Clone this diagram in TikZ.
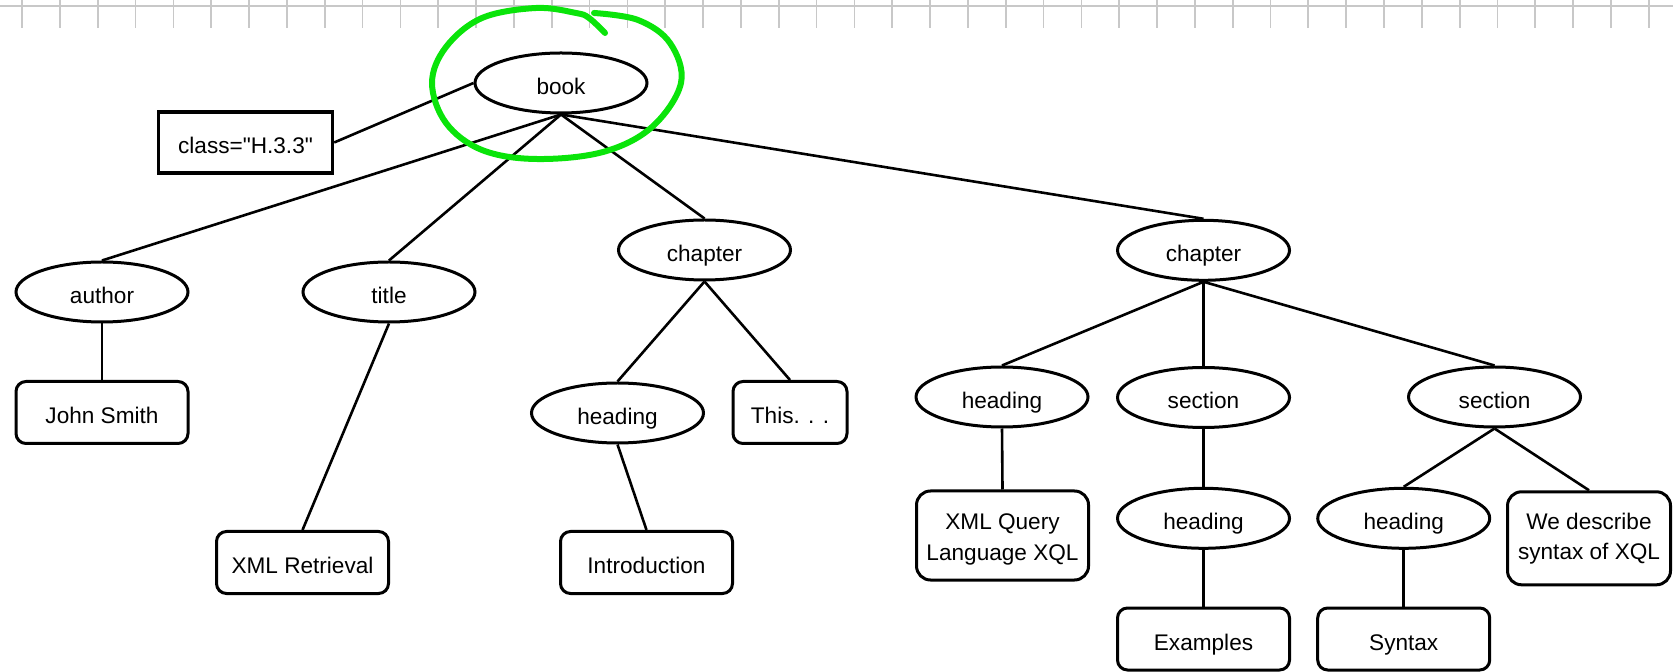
\documentclass[tikz,border=0pt]{standalone}
\usepackage{fontspec}
\setmainfont{Liberation Sans}
\usetikzlibrary{shapes.geometric, positioning}
\definecolor{markgreen}{RGB}{10,228,10}
\definecolor{gridgray}{RGB}{200,200,200}

\begin{document}
\begin{tikzpicture}[x=0.5pt,y=-0.5pt,line width=1.3pt,
 font=\fontsize{11.3}{15.35}\selectfont,text height=11.3pt,text depth=0pt,
 elem node/.style={ellipse,draw,line width=1.5pt,inner sep=0pt,minimum width=86pt,minimum height=30pt},
 leaf node/.style={rectangle,rounded corners=5pt,draw,line width=1.5pt,inner sep=0pt,minimum width=86pt,minimum height=31pt,align=center},
 long node/.style={leaf node,rounded corners=7pt,text height=25.2pt,text depth=0pt},
 attr node/.style={rectangle,draw,line width=1.7pt,inner sep=0pt,minimum width=87pt,minimum height=30.5pt}]
  \useasboundingbox (0,0) rectangle (1673,672);
  % ruler at the top
  \draw[gridgray,line width=0.85pt] (0,5.7) -- (1673,5.7);
  \foreach \i in {0,...,43} {
   \draw[gridgray,line width=0.85pt] (22.1+37.83*\i,0) -- ++(0,28);}

   \node[elem node] (book) at (561,83) {book};
   \node[attr node] (class) at (245.5,142.5) {class=\textquotedbl H.3.3\textquotedbl};
   \node[elem node] (author) at (102,292) {author};
   \node[elem node] (title) at (389,292) {title};
   \node[elem node] (chap1) at (704.5,250) {chapter};
   \node[elem node] (chap2) at (1203.5,250.3) {chapter};
   \node[leaf node] (john) at (102,412.5) {John Smith};
   \node[leaf node] (xmlret) at (302.5,562.5) {XML Retrieval};
   \node[elem node] (head1) at (617.5,413) {heading};
   \node[leaf node,minimum width=57pt] (this) at (790,412.5) {This. . .};
   \node[leaf node] (intro) at (646.5,562.5) {Introduction};
   \node[elem node] (head2) at (1002,397) {heading};
   \node[elem node] (sec1) at (1203.5,397.5) {section};
   \node[elem node] (sec2) at (1494.5,397) {section};
   \node[long node,minimum height=44.5pt] (xql) at (1002.5,535.5) {XML Query\\Language XQL};
   \node[elem node] (head3) at (1203.5,518.3) {heading};
   \node[elem node] (head4) at (1403.7,518.3) {heading};
   \node[long node,minimum width=81.5pt,minimum height=46.5pt,text height=21.7pt] (desc) at (1589,538.3) {We describe\\syntax of XQL};
   \node[leaf node] (examples) at (1203.5,639) {Examples};
   \node[leaf node] (syntax) at (1403.7,639) {Syntax};

  \foreach \s/\t in {book/author, book/title, book/chap1, book/chap2, author/john,
   title/xmlret, chap1/head1, chap1/this, head1/intro, chap2/head2, chap2/sec1,
   chap2/sec2, head2/xql, sec1/head3, head3/examples, sec2/head4, sec2/desc, head4/syntax} {
   \draw (\s.south) -- (\t.north);}
  \draw (class.east) -- (book.west);

  % hand-drawn mark round the root
  \draw[markgreen,line width=3pt,line cap=round,line join=round]
   plot[smooth,tension=0.6] coordinates {(605,33) (589,18) (576,13) (536,8) (482,18)
   (446,47) (432,83) (446,123) (482,150) (536,159) (603,152) (652,127) (681,83)
   (670,43) (638,20) (594,13)};
\end{tikzpicture}
\end{document}
